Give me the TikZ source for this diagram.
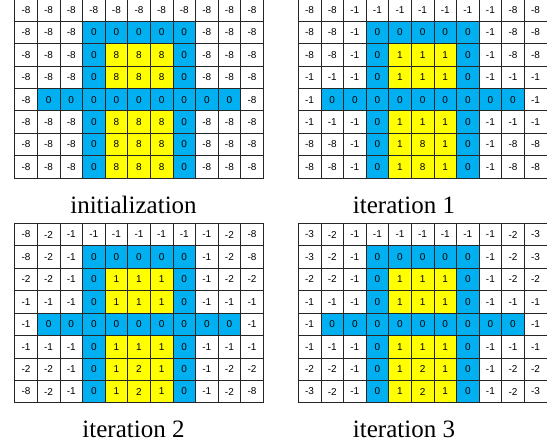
\documentclass[tikz,border=0pt]{standalone}
\usepackage{fontspec}
\setmainfont{Liberation Serif}
\newfontfamily\cellfont{Liberation Sans}
\definecolor{cellblue}{HTML}{00B0F0}
\definecolor{cellyellow}{HTML}{FFFF00}
\tikzset{
  cell/.style={draw=black!85, line width=0.7pt, minimum width=22.6pt, minimum height=22.43pt,
    inner sep=0pt, font=\cellfont\fontsize{10}{11}\selectfont, anchor=center},
  caption/.style={font=\fontsize{25}{28}\selectfont, anchor=base, inner sep=0pt}
}
\newcommand\drawgrid[4]{%
  \foreach \row [count=\r from 0] in {#4} {
    \foreach \v [count=\c from 0] in \row {
      \pgfmathtruncatemacro\kind{((\r==1 && \c>=3 && \c<=7) || (\r==4 && \c>=1 && \c<=9) || (\r>=2 && \r!=4 && (\c==3 || \c==7))) ? 1 : ((\r>=2 && \r!=4 && \c>=4 && \c<=6) ? 2 : 0)}
      \ifcase\kind \def\cellcol{white}\or \def\cellcol{cellblue}\or \def\cellcol{cellyellow}\fi
      \node[cell, fill=\cellcol] (#1-\r-\c) at ({#2+(\c+0.5)*22.6}, {#3+(\r+0.5)*22.43}) {\v};
    }
  }%
}
\begin{document}
\begin{tikzpicture}[x=1pt, y=-1pt]
\useasboundingbox (0,0) rectangle (547,444);
\drawgrid{ga}{14.7}{-1.3}{
{-8,-8,-8,-8,-8,-8,-8,-8,-8,-8,-8},
{-8,-8,-8,0,0,0,0,0,-8,-8,-8},
{-8,-8,-8,0,8,8,8,0,-8,-8,-8},
{-8,-8,-8,0,8,8,8,0,-8,-8,-8},
{-8,0,0,0,0,0,0,0,0,0,-8},
{-8,-8,-8,0,8,8,8,0,-8,-8,-8},
{-8,-8,-8,0,8,8,8,0,-8,-8,-8},
{-8,-8,-8,0,8,8,8,0,-8,-8,-8}}
\drawgrid{gb}{298.3}{-1.3}{
{-8,-8,-1,-1,-1,-1,-1,-1,-1,-8,-8},
{-8,-8,-1,0,0,0,0,0,-1,-8,-8},
{-8,-8,-1,0,1,1,1,0,-1,-8,-8},
{-1,-1,-1,0,1,1,1,0,-1,-1,-1},
{-1,0,0,0,0,0,0,0,0,0,-1},
{-1,-1,-1,0,1,1,1,0,-1,-1,-1},
{-8,-8,-1,0,1,8,1,0,-1,-8,-8},
{-8,-8,-1,0,1,8,1,0,-1,-8,-8}}
\drawgrid{gc}{14.7}{223.3}{
{-8,-2,-1,-1,-1,-1,-1,-1,-1,-2,-8},
{-8,-2,-1,0,0,0,0,0,-1,-2,-8},
{-2,-2,-1,0,1,1,1,0,-1,-2,-2},
{-1,-1,-1,0,1,1,1,0,-1,-1,-1},
{-1,0,0,0,0,0,0,0,0,0,-1},
{-1,-1,-1,0,1,1,1,0,-1,-1,-1},
{-2,-2,-1,0,1,2,1,0,-1,-2,-2},
{-8,-2,-1,0,1,2,1,0,-1,-2,-8}}
\drawgrid{gd}{298.3}{223.3}{
{-3,-2,-1,-1,-1,-1,-1,-1,-1,-2,-3},
{-3,-2,-1,0,0,0,0,0,-1,-2,-3},
{-2,-2,-1,0,1,1,1,0,-1,-2,-2},
{-1,-1,-1,0,1,1,1,0,-1,-1,-1},
{-1,0,0,0,0,0,0,0,0,0,-1},
{-1,-1,-1,0,1,1,1,0,-1,-1,-1},
{-2,-2,-1,0,1,2,1,0,-1,-2,-2},
{-3,-2,-1,0,1,2,1,0,-1,-2,-3}}
\node[caption] (capa) at (133.5,213) {initialization};
\node[caption] (capb) at (404,213) {iteration 1};
\node[caption] (capc) at (133.5,437) {iteration 2};
\node[caption] (capd) at (404,437) {iteration 3};
\end{tikzpicture}
\end{document}
